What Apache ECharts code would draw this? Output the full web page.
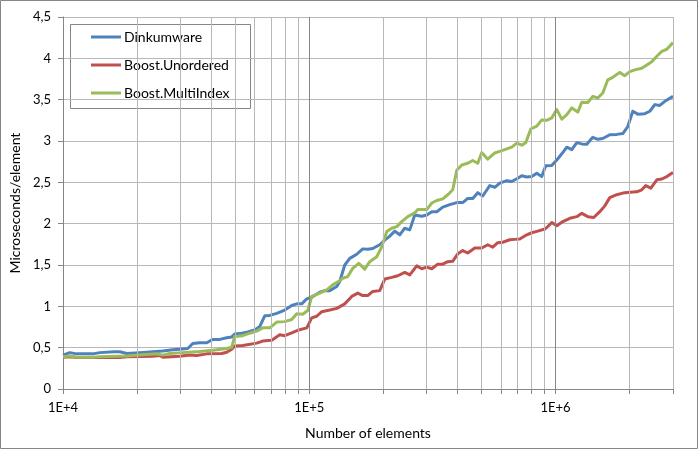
<!DOCTYPE html>
<html>
<head>
<meta charset="utf-8">
<script src="https://cdn.jsdelivr.net/npm/echarts@6/dist/echarts.min.js"></script>
<style>html,body{margin:0;padding:0;background:#fff}#c{width:698px;height:449px}</style>
</head>
<body>
<div id="c"></div>
<script>
const seriesNames = ['Dinkumware', 'Boost.Unordered', 'Boost.MultiIndex'];
const xTickLabels = [10000, 100000, 1000000];
const yTicks = [0, 0.5, 1, 1.5, 2, 2.5, 3, 3.5, 4, 4.5];
const minorGrid = [20000,30000,40000,50000,60000,70000,80000,90000,200000,300000,400000,500000,600000,700000,800000,900000,2000000,3000000];
const majorGrid = [100000, 1000000];

const dinkX = [10000,10650,11370,13200,14100,16220,16990,18150,20490,23140,25410,27900,30630,32100,33640,35920,38350,40560,43310,46230,48450,49820,52200,56260,60060,62940,65950,69110,73780,79510,84900,88970,93230,97690,102360,110310,115590,121120,129310,132990,139360,146030,155900,164900,172790,181060,193310,202580,212270,222440,233090,244250,255950,268200,286350,300050,314440,329480,348480,372040,397190,420090,440200,461240,483340,506460,540740,566640,593770,633900,664230,702590,729390,764270,800820,839150,879280,912790,966000,1012200,1060600,1111400,1164600,1220300,1278700,1339900,1417100,1484900,1556000,1661200,1773500,1875900,1965700,2059800,2158500,2304500,2415500,2531300,2652400,2779500,3000000];
const dinkY = [0.41,0.44,0.425,0.425,0.44,0.45,0.45,0.43,0.44,0.45,0.46,0.475,0.485,0.49,0.55,0.56,0.56,0.60,0.60,0.62,0.63,0.665,0.67,0.69,0.715,0.755,0.885,0.89,0.915,0.955,1.01,1.03,1.03,1.09,1.11,1.17,1.19,1.19,1.24,1.30,1.50,1.58,1.63,1.695,1.69,1.70,1.745,1.80,1.85,1.91,1.865,1.945,1.925,2.105,2.09,2.105,2.145,2.145,2.20,2.23,2.255,2.255,2.305,2.305,2.375,2.335,2.46,2.44,2.49,2.52,2.51,2.55,2.58,2.565,2.57,2.61,2.57,2.70,2.705,2.77,2.845,2.925,2.895,2.98,2.965,2.96,3.045,3.02,3.03,3.075,3.08,3.09,3.175,3.36,3.325,3.33,3.36,3.44,3.43,3.48,3.54];

const unordX = [10000,10650,11370,16990,18150,23140,24710,25410,29790,32710,34930,38350,44130,46230,48450,49820,53690,61200,64730,70410,75880,79510,84900,89800,97690,102360,107260,112390,121120,129310,139360,148790,157370,164900,172790,181060,193310,202580,216280,228770,244250,255950,273260,286350,300050,314440,332580,348480,365150,382620,400920,420090,440200,469940,501750,530700,556120,582740,610650,651910,683120,715870,764270,800820,847030,904290,930030,966000,1012200,1070600,1143000,1220300,1278700,1352500,1430400,1513000,1585300,1661200,1773500,1875900,2002800,2138400,2240700,2326100,2438300,2579100,2702500,2832000,3000000];
const unordY = [0.385,0.39,0.38,0.38,0.39,0.395,0.405,0.385,0.395,0.41,0.405,0.425,0.43,0.445,0.48,0.52,0.525,0.555,0.58,0.59,0.655,0.645,0.68,0.71,0.74,0.86,0.88,0.935,0.955,0.975,1.03,1.12,1.16,1.13,1.13,1.18,1.19,1.33,1.35,1.37,1.41,1.38,1.49,1.455,1.475,1.455,1.51,1.51,1.54,1.545,1.635,1.675,1.645,1.705,1.705,1.745,1.715,1.77,1.775,1.805,1.81,1.815,1.865,1.89,1.91,1.935,1.965,2.015,1.975,2.025,2.065,2.085,2.125,2.085,2.075,2.145,2.215,2.315,2.35,2.37,2.38,2.385,2.41,2.46,2.43,2.53,2.54,2.57,2.62];

const multiX = [10000,10650,11370,13200,14100,18150,20490,24020,25410,27130,30630,35920,40560,46230,48450,49820,53690,57320,61200,64730,69110,73780,79510,84900,88970,94100,98610,102360,110310,117770,124570,132990,136780,143330,150190,158850,168010,176050,187960,196970,206410,216280,226640,237490,251200,268200,275830,300050,314440,329480,348480,365150,382620,397190,416180,440200,461240,483340,501750,530700,566640,593770,633900,664230,696050,729390,757160,793370,839150,879280,921370,966000,1012200,1060600,1111400,1164600,1231800,1278700,1352500,1417100,1484900,1556000,1630400,1708500,1824000,1911300,2002800,2098700,2240700,2347900,2461100,2579100,2702500,2832000,3000000];
const multiY = [0.39,0.40,0.385,0.385,0.39,0.40,0.41,0.425,0.41,0.43,0.44,0.455,0.47,0.49,0.505,0.635,0.645,0.675,0.70,0.74,0.74,0.81,0.815,0.84,0.91,0.905,0.95,1.12,1.16,1.20,1.26,1.31,1.34,1.36,1.46,1.52,1.45,1.54,1.60,1.72,1.905,1.945,1.965,2.025,2.085,2.13,2.17,2.17,2.25,2.28,2.30,2.35,2.41,2.645,2.71,2.73,2.765,2.73,2.86,2.78,2.855,2.875,2.905,2.925,2.975,2.95,2.98,3.145,3.18,3.255,3.25,3.28,3.38,3.265,3.32,3.40,3.35,3.47,3.465,3.54,3.52,3.58,3.74,3.77,3.83,3.79,3.84,3.86,3.88,3.92,3.96,4.025,4.085,4.11,4.19];

const colors = ['#4F81BD', '#C0504D', '#9BBB59'];
const font = 'Lato, "Noto Sans", sans-serif';
const zip = (xs, ys) => xs.map((x, i) => [x, ys[i]]);

const chart = echarts.init(document.getElementById('c'), null, {renderer: 'canvas'});
const lineSeries = [[dinkX, dinkY], [unordX, unordY], [multiX, multiY]].map((d, i) => ({
  name: seriesNames[i], type: 'line', data: zip(d[0], d[1]), showSymbol: false, symbol: 'none',
  lineStyle: {color: colors[i], width: 3, join: 'round'}, itemStyle: {color: colors[i]}, z: 3, animation: false
}));

chart.setOption({
  animation: false,
  textStyle: {fontFamily: font},
  grid: {left: 63, right: 25, top: 17, bottom: 60, containLabel: false},
  xAxis: {
    type: 'log', logBase: 10, min: 10000, max: 3000000,
    name: 'Number of elements', nameLocation: 'middle', nameGap: 37,
    nameTextStyle: {fontSize: 14, color: '#000', fontFamily: font},
    axisLine: {show: true, lineStyle: {color: '#868686', width: 1}},
    axisTick: {show: true, inside: false, length: 5, lineStyle: {color: '#868686'},
      customValues: [10000].concat(minorGrid, majorGrid)},
    axisLabel: {customValues: xTickLabels, fontSize: 13, color: '#000', margin: 12, fontFamily: font,
      formatter: v => '1E+' + Math.round(Math.log10(v))},
    splitLine: {show: false}, minorTick: {show: false}
  },
  yAxis: {
    type: 'value', min: 0, max: 4.5, interval: 0.5,
    name: 'Microseconds/element', nameLocation: 'middle', nameGap: 40, nameRotate: 90,
    nameTextStyle: {fontSize: 14, color: '#000', fontFamily: font},
    axisLine: {show: true, lineStyle: {color: '#868686', width: 1}},
    axisTick: {show: true, inside: false, length: 5, lineStyle: {color: '#868686'}},
    axisLabel: {fontSize: 13, color: '#000', margin: 12, fontFamily: font,
      formatter: v => String(v).replace('.', ',')},
    splitLine: {show: true, lineStyle: {color: '#b8b8b8', width: 1}}
  },
  legend: {
    data: seriesNames, orient: 'vertical', left: 91, top: 30, itemGap: 14,
    icon: 'rect', itemWidth: 30, itemHeight: 3, padding: 0,
    textStyle: {fontSize: 14, color: '#000', fontFamily: font, padding: [0, 0, 0, -2]}
  },
  graphic: [
    {type: 'rect', shape: {x: 0.5, y: 0.5, width: 697, height: 448}, style: {fill: null, stroke: '#868686', lineWidth: 1}, z: 100, silent: true},
    {type: 'rect', shape: {x: 70.5, y: 24.5, width: 180, height: 84}, style: {fill: '#fff', stroke: '#868686', lineWidth: 1}, z: 0, zlevel: 0, silent: true}
  ],
  series: [{
    name: 'grid', type: 'line', data: [], silent: true, z: 1,
    markLine: {
      silent: true, symbol: 'none', animation: false, label: {show: false},
      data: minorGrid.map(v => ({xAxis: v, lineStyle: {color: '#b8b8b8', width: 1, type: 'solid'}}))
        .concat(majorGrid.map(v => ({xAxis: v, lineStyle: {color: '#868686', width: 1, type: 'solid'}})))
    }
  }].concat(lineSeries)
});
</script>
</body>
</html>
